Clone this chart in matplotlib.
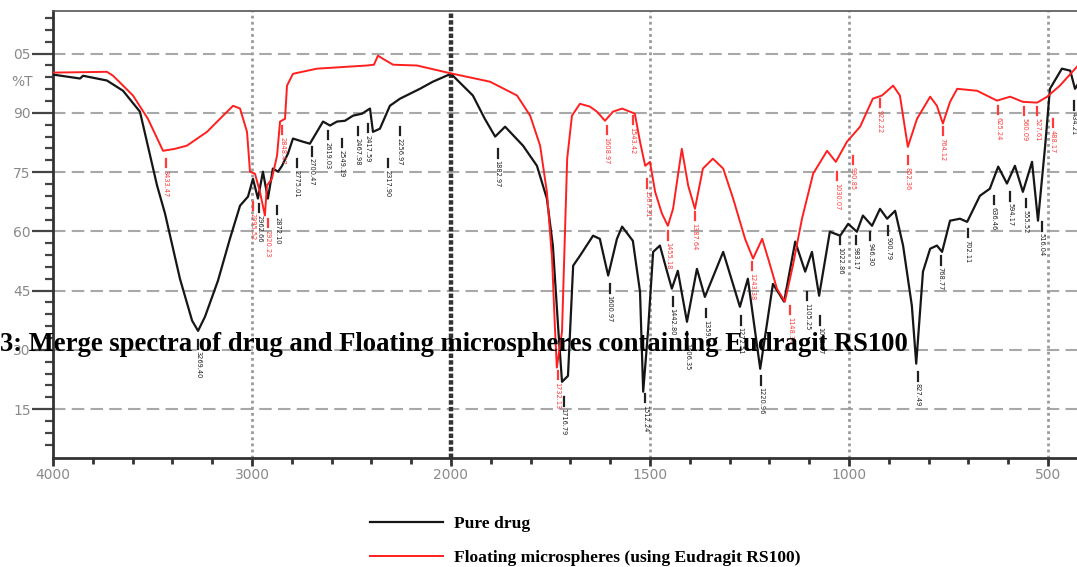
import numpy as np
import matplotlib
matplotlib.use("Agg")
import matplotlib.pyplot as plt
from matplotlib.ticker import FixedLocator, FixedFormatter

# --- spectra (wavenumber cm-1, %T) ---
black_w = [4000, 3864, 3849, 3729, 3648, 3563, 3477, 3437, 3362, 3301,
           3271, 3236, 3171, 3111, 3060, 3020, 2995, 2970, 2945, 2920,
           2895, 2869, 2849, 2819, 2794, 2744, 2709, 2643, 2608, 2573,
           2533, 2492, 2447, 2407, 2392, 2357, 2307, 2256, 2156, 2091, 2000,
           1945, 1915, 1889, 1864, 1819, 1784, 1759, 1744, 1731, 1721,
           1706, 1693, 1676, 1643, 1626, 1605, 1583, 1570, 1543, 1525,
           1517, 1505, 1492, 1475, 1457, 1445, 1430, 1407, 1382, 1362,
           1316, 1274, 1254, 1223, 1191, 1163, 1135, 1110, 1093, 1075,
           1048, 1022, 1002, 980, 965, 942, 922, 904, 884, 864,
           842, 831, 814, 796, 779, 766, 746, 721, 703, 671,
           646, 625, 603, 583, 563, 540, 525, 507, 495, 465,
           444, 432, 424]
black_t = [99.7, 98.7, 99.4, 98.2, 95.6, 90.3, 71.6, 64.5, 48.0, 37.4,
           34.8, 38.4, 47.5, 58.1, 66.5, 68.8, 73.3, 68.3, 75.1, 68.3,
           75.9, 75.1, 76.6, 79.7, 83.5, 82.7, 82.2, 87.8, 86.8, 87.8,
           88.0, 89.3, 89.8, 91.1, 85.2, 86.0, 91.8, 93.6, 96.1, 97.9, 99.9,
           94.4, 88.5, 84.0, 86.5, 81.7, 76.6, 68.3, 56.4, 36.1, 21.9,
           23.4, 51.3, 53.8, 58.9, 58.1, 48.8, 58.1, 61.2, 57.6, 44.7,
           19.4, 34.6, 54.8, 56.4, 49.8, 45.5, 50.0, 37.1, 50.5, 43.4,
           54.8, 40.9, 48.0, 25.2, 46.7, 42.2, 57.4, 49.8, 54.8, 43.7,
           59.9, 58.9, 61.9, 59.9, 64.0, 61.4, 65.7, 63.2, 65.2, 56.4,
           41.2, 26.5, 49.8, 55.6, 56.4, 54.8, 62.7, 63.2, 62.4, 69.0,
           70.8, 76.4, 72.1, 76.6, 70.0, 77.6, 62.7, 81.7, 96.1, 101.2,
           100.7, 96.1, 97.4]

red_w = [4000, 3729, 3698, 3598, 3523, 3447, 3387, 3327, 3226, 3151,
         3095, 3060, 3025, 3010, 2985, 2960, 2935, 2925, 2900, 2874,
         2859, 2834, 2824, 2794, 2673, 2422, 2387, 2367, 2342, 2291,
         2171, 2000,
         1902, 1834, 1801, 1776, 1759, 1746, 1739, 1734, 1721, 1708,
         1696, 1676, 1651, 1633, 1613, 1593, 1570, 1538, 1525, 1512,
         1500, 1487, 1470, 1455, 1442, 1420, 1404, 1387, 1367, 1342,
         1316, 1291, 1261, 1241, 1218, 1203, 1181, 1161, 1141, 1118,
         1090, 1055, 1033, 1005, 972, 940, 917, 889, 872, 852,
         829, 796, 779, 764, 746, 728, 678, 628, 595, 563,
         527, 502, 470, 427]
red_t = [100.2, 100.4, 99.4, 94.4, 88.5, 80.4, 80.9, 81.7, 85.2, 89.0,
         91.8, 91.1, 85.2, 75.1, 74.6, 70.0, 64.0, 71.6, 73.3, 79.2,
         87.8, 88.5, 96.9, 99.9, 101.2, 102.0, 102.2, 104.5, 103.7, 102.2,
         102.0, 100.0,
         97.9, 94.4, 89.3, 81.7, 70.0, 53.1, 36.1, 25.5, 34.6, 78.4,
         89.3, 92.3, 91.6, 90.3, 88.0, 90.3, 91.1, 89.8, 82.7, 76.6,
         77.6, 70.0, 64.5, 61.4, 65.7, 80.9, 71.6, 65.7, 75.9, 78.4,
         75.9, 68.3, 58.1, 53.1, 58.1, 53.1, 45.5, 42.2, 51.3, 63.2,
         74.6, 80.4, 77.6, 82.7, 86.5, 93.6, 94.4, 96.9, 94.4, 81.4,
         88.5, 94.1, 91.8, 87.3, 92.8, 96.1, 95.6, 93.1, 94.1, 92.8,
         92.6, 94.1, 96.9, 101.7]

# peak labels (wavenumber, %T where the label mark starts)
black_lbl_w = [3269.40, 2962.66, 2872.10, 2775.01, 2700.47, 2619.03, 2549.19,
               2467.98, 2417.59, 2317.90, 2256.97, 1882.97, 1716.79, 1600.97,
               1512.24, 1442.80, 1406.35, 1359.00, 1272.51, 1220.96, 1105.25,
               1072.37, 1022.86, 983.17, 946.30, 900.79, 827.49, 768.77,
               702.11, 636.46, 594.17, 555.52, 516.04, 434.21]
black_lbl_t = [32.5, 67.0, 66.5, 78.4, 81.4, 85.5, 83.5, 86.5, 87.3, 78.4,
               86.5, 80.9, 18.1, 46.7, 18.9, 43.4, 34.6, 40.4, 38.6, 23.4,
               44.7, 38.6, 58.9, 58.9, 59.9, 61.4, 24.4, 53.8, 60.7, 69.0,
               70.0, 68.3, 62.4, 93.0]
red_lbl_w = [3433.47, 2995.52, 2920.23, 2848.47, 1732.13, 1608.97, 1543.42,
             1507.31, 1455.18, 1387.64, 1243.38, 1148.34, 1030.07, 990.85,
             922.22, 852.36, 764.12, 625.24, 560.09, 527.61, 488.17]
red_lbl_t = [78.4, 67.5, 63.2, 86.8, 24.7, 86.8, 89.3, 73.3, 60.0, 65.0,
             52.3, 41.2, 75.1, 79.2, 93.6, 79.2, 86.5, 91.8, 91.6, 91.6, 88.5]

x_major = [4000, 3000, 2000, 1500, 1000, 500]
x_minor = [3800, 3600, 3400, 3200, 2800, 2600, 2400, 2200,
           1900, 1800, 1700, 1600, 1400, 1300, 1200, 1100,
           900, 800, 700, 600]
y_major = [15, 30, 45, 60, 75, 90, 105]
y_labels = ['15', '30', '45', '60', '75', '90', '05']

BLACK = '#161616'
RED = '#ff1f1f'


# FTIR style axis: region above 2000 cm-1 is compressed by half
def fwd(w):
    w = np.asarray(w, dtype=float)
    return np.where(w > 2000, 2000 + (w - 2000) / 2.0, w)


def inv(v):
    v = np.asarray(v, dtype=float)
    return np.where(v > 2000, 2000 + (v - 2000) * 2.0, v)


fig = plt.figure(figsize=(10.77, 5.67), dpi=100)
ax = fig.add_axes([0.0492, 0.1922, 0.9508, 0.7884])
ax.set_xscale('function', functions=(fwd, inv))
ax.set_xlim(4000, 427)
ax.set_ylim(2.6, 115.8)

# grid
for yv in y_major:
    ax.axhline(yv, color='#a8a8a8', lw=1.5, ls=(0, (6, 3)), zorder=1)
for xv in [3000, 1500, 1000, 500]:
    ax.axvline(xv, color='#9a9a9a', lw=2, ls=(0, (1, 1.2)), zorder=1)
ax.axvline(2000, color='#333333', lw=3.2, ls=(0, (1, 0.5)), zorder=1)

line_b, = ax.plot(black_w, black_t, color=BLACK, lw=1.6, zorder=3)
line_r, = ax.plot(red_w, red_t, color=RED, lw=1.4, zorder=4)

# peak marks + labels
for ws, ts, col in [(black_lbl_w, black_lbl_t, '#202020'),
                    (red_lbl_w, red_lbl_t, '#ff3b3b')]:
    for w, t in zip(ws, ts):
        ax.plot([w, w], [t, t - 2.2], color=col, lw=1.6, zorder=5)
        ax.text(w, t - 2.8, f"{w:.2f}", rotation=270, ha='center', va='top',
                fontsize=4.8, color=col, zorder=5)

# axes styling
for side in ['left', 'bottom']:
    ax.spines[side].set_color('#333333')
    ax.spines[side].set_linewidth(2)
ax.spines['top'].set_color('#555555')
ax.spines['top'].set_linewidth(1.2)
ax.spines['right'].set_visible(False)

ax.xaxis.set_major_locator(FixedLocator(x_major))
ax.xaxis.set_minor_locator(FixedLocator(x_minor))
ax.xaxis.set_major_formatter(FixedFormatter([str(v) for v in x_major]))
ax.yaxis.set_major_locator(FixedLocator(y_major))
ax.yaxis.set_minor_locator(FixedLocator([v for v in range(6, 115, 3) if v % 15]))
ax.yaxis.set_major_formatter(FixedFormatter(y_labels))

ax.tick_params(axis='x', which='major', length=6, width=2, color='#333333',
               labelsize=10, labelcolor='#8a8a8a', pad=1)
ax.tick_params(axis='x', which='minor', length=4, width=2, color='#333333')
ax.tick_params(axis='y', which='major', length=15, width=1.6, color='#444444',
               labelsize=10, labelcolor='#8a8a8a', pad=1)
ax.tick_params(axis='y', which='minor', length=6, width=1.6, color='#444444')

ax.text(-0.02, 97.9, '%T', transform=ax.get_yaxis_transform(), ha='right',
        va='center', fontsize=10, color='#8a8a8a')

fig.text(0.0, 0.393, '3: Merge spectra of drug and Floating microspheres containing Eudragit RS100',
         ha='left', va='center', fontsize=19.2, fontweight='bold',
         family='Liberation Serif', color='black', zorder=10)

fig.legend([line_b, line_r], ['Pure drug', 'Floating microspheres (using Eudragit RS100)'],
           loc='center left', bbox_to_anchor=(0.3435, 0.046), frameon=False,
           prop={'family': 'Liberation Serif', 'weight': 'bold', 'size': 12.6},
           handlelength=4.2, handletextpad=0.6, labelspacing=1.05,
           borderpad=0, borderaxespad=0)

fig.savefig('out.png', dpi=100)
